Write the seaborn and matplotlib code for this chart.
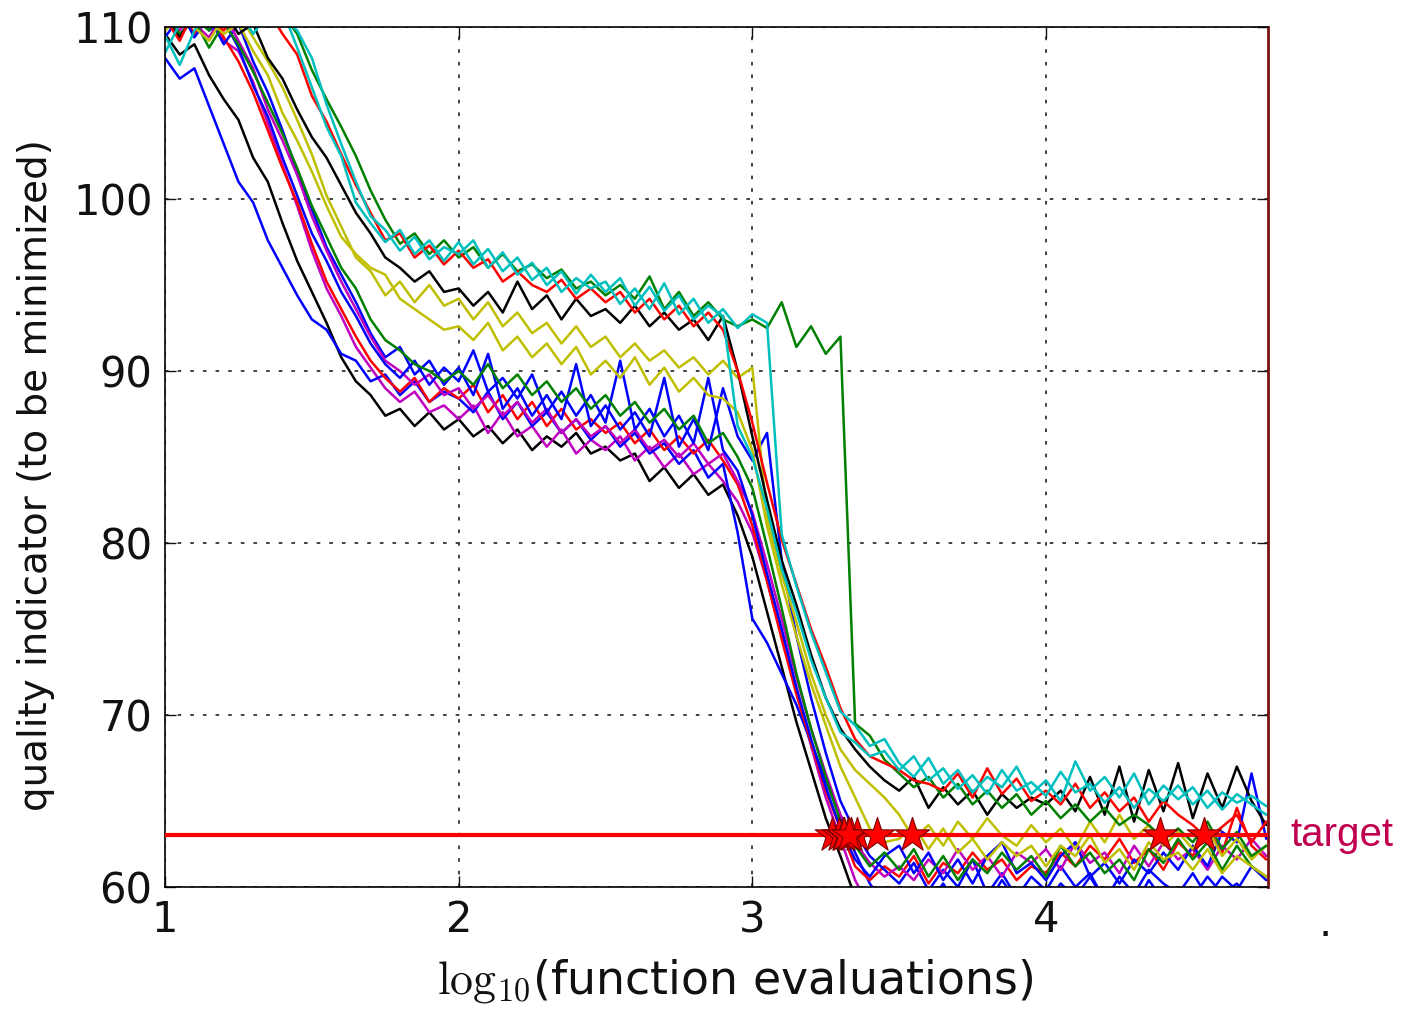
import numpy as np
import pandas as pd
import matplotlib
matplotlib.use("Agg")
import matplotlib.pyplot as plt
import seaborn as sns

# log10(evaluations) sample grid: 1.00, 1.05, ..., 4.75
log_evals = np.round(np.arange(1.0, 4.751, 0.05), 2)
target = 63

cyan1 = [108.5, 110.2, 111, 110.5, 111.2, 110.8, 111, 110.3, 111, 108.8,
         106.5, 104.2, 102.5, 99.8, 98.6, 97.5, 98.2, 96.8, 97.6, 96.4,
         97.5, 96.2, 97.1, 95.8, 96.6, 95.3, 96.0, 94.6, 95.4, 94.8,
         95.2, 93.9, 94.8, 93.6, 95.1, 93.3, 94.2, 92.8, 93.6, 92.5,
         93.3, 92.8, 80.5, 77.5, 74.8, 72.5, 70.2, 69.4, 68.2, 68.6,
         67.2, 66.4, 67.5, 66.0, 66.8, 65.5, 66.4, 65.8, 67.0, 65.4,
         66.2, 65.0, 67.3, 65.6, 66.4, 65.2, 66.6, 64.8, 65.9, 65.1,
         65.8, 64.6, 65.5, 64.9, 65.3, 64.7]
cyan2 = [109.5, 107.8, 109.8, 111, 110.2, 111, 109.6, 110.8, 110.5, 109.8,
         108.2, 105.5, 103.2, 101.0, 99.0, 98.2, 97.0, 97.8, 96.5, 97.2,
         96.8, 97.6, 96.0, 96.9, 95.6, 96.3, 95.0, 95.8, 94.5, 95.6,
         94.6, 95.4, 93.8, 94.9, 93.5, 94.4, 93.0, 93.8, 93.2, 86.8,
         85.0, 82.0, 78.5, 76.0, 73.2, 71.0, 69.0, 68.4, 67.6, 67.9,
         66.8, 67.6, 66.2, 66.9, 65.7, 66.5, 65.4, 66.8, 65.6, 66.1,
         65.3, 66.7, 65.5, 66.0, 64.9, 65.8, 64.6, 65.7, 65.0, 65.9,
         64.8, 65.6, 64.5, 65.4, 64.8, 64.2]
red1 = [110.5, 109.2, 111, 110.6, 109.8, 111, 110.4, 111, 109.6, 108.4,
        106.0, 104.5, 102.6, 100.8, 99.2, 97.6, 98.0, 96.6, 97.3, 96.2,
        97.0, 96.0, 96.5, 95.2, 95.8, 95.0, 94.6, 95.3, 94.2, 94.8,
        94.0, 94.6, 93.4, 94.2, 93.0, 93.8, 92.6, 93.4, 92.4, 90.0,
        87.0, 83.5, 80.2, 77.6, 75.0, 72.8, 70.4, 68.6, 67.6, 67.2,
        66.8, 66.2, 66.0, 65.6, 66.6, 65.2, 66.9, 65.4, 66.3, 65.0,
        65.6, 64.8, 66.0, 64.6, 65.5, 64.4, 65.2, 63.8, 65.0, 64.2,
        63.6, 62.8, 63.5, 64.2, 62.6, 63.8]
green1 = [110.2, 111, 110.5, 109.8, 111, 110.6, 111, 110.2, 110.8, 109.6,
          107.5, 105.8, 104.2, 102.5, 100.5, 98.8, 97.4, 98.0, 96.8, 97.6,
          96.6, 97.2, 96.0, 96.8, 95.8, 96.2, 95.4, 95.9, 94.8, 95.2,
          94.4, 95.0, 94.2, 95.5, 93.6, 94.6, 93.2, 94.0, 93.0, 92.6,
          93.0, 92.5, 94.0, 91.4, 92.6, 91.0, 92.0, 69.5, 68.8, 67.4,
          66.6, 65.8, 66.4, 65.2, 66.0, 64.8, 65.6, 64.6, 65.4, 64.2,
          65.0, 64.0, 64.8, 63.8, 64.6, 63.6, 64.2, 63.6, 62.8, 63.4,
          62.6, 63.8, 62.2, 63.2, 61.8, 62.4]
black1 = [110.5, 109.4, 110.8, 110.2, 111, 109.6, 110.2, 108.2, 107.0, 105.2,
          103.6, 102.4, 100.8, 99.2, 98.0, 96.6, 96.0, 95.2, 95.8, 94.6,
          94.8, 93.8, 94.6, 93.4, 95.2, 93.6, 94.4, 93.0, 94.2, 93.2,
          93.6, 92.8, 93.8, 92.6, 93.4, 92.4, 93.0, 91.8, 93.2, 90.0,
          86.2, 82.5, 79.0, 76.4, 73.5, 71.0, 69.2, 68.0, 67.0, 66.2,
          65.6, 66.4, 64.6, 65.8, 64.8, 65.6, 64.2, 65.4, 64.6, 65.2,
          64.8, 65.6, 64.4, 66.4, 64.2, 67.0, 63.8, 66.8, 64.4, 67.2,
          64.0, 66.6, 64.6, 67.0, 65.0, 63.6]
yellow1 = [110.4, 111, 110.0, 109.2, 110.6, 110.8, 109.4, 108.0, 106.5, 104.6,
           102.6, 100.2, 98.4, 96.6, 95.8, 94.4, 95.2, 94.0, 95.0, 93.8,
           94.2, 93.0, 94.0, 92.6, 93.4, 92.2, 92.8, 91.6, 92.6, 91.4,
           92.0, 90.8, 91.6, 90.6, 91.2, 90.2, 90.8, 89.8, 90.6, 89.6,
           90.2, 81.5, 78.2, 75.4, 72.4, 70.0, 68.0, 66.8, 66.0, 65.2,
           64.2, 62.8, 63.6, 62.4, 63.8, 62.8, 64.0, 63.0, 62.4, 63.6,
           62.6, 63.4, 62.2, 63.8, 62.6, 64.2, 62.8, 63.6, 62.4, 63.2,
           62.2, 63.4, 61.8, 62.8, 61.6, 62.4]
yellow2 = [109.8, 110.6, 111, 110.4, 109.6, 110.2, 108.6, 107.2, 105.0, 103.4,
           101.6, 99.6, 97.8, 96.8, 96.0, 95.6, 94.2, 93.6, 93.0, 92.4,
           92.6, 91.8, 92.8, 91.2, 92.0, 90.8, 91.6, 90.4, 91.4, 89.8,
           90.6, 89.6, 90.8, 89.2, 90.2, 88.8, 89.6, 88.6, 88.4, 87.6,
           85.4, 81.0, 77.6, 74.6, 71.8, 69.4, 67.0, 65.2, 63.4, 62.6,
           62.8, 63.6, 62.2, 63.4, 62.0, 62.8, 61.6, 62.6, 61.8, 62.4,
           61.2, 62.4, 61.8, 63.0, 61.4, 62.2, 61.0, 62.6, 61.6, 62.0,
           61.0, 62.2, 60.8, 61.8, 61.2, 60.6]
green2 = [110.8, 109.6, 110.4, 108.8, 110.2, 109.0, 107.4, 105.6, 103.8, 101.8,
          99.6, 97.8, 96.0, 94.8, 93.0, 91.8, 91.2, 90.4, 90.0, 89.4,
          90.0, 89.2, 90.4, 89.0, 89.8, 88.6, 89.4, 88.2, 89.0, 87.8,
          88.6, 87.4, 88.2, 87.0, 87.8, 86.6, 87.4, 85.8, 86.4, 85.0,
          83.2, 79.8, 76.2, 72.4, 69.2, 66.4, 63.8, 62.4, 61.2, 62.0,
          61.0, 62.2, 60.6, 61.8, 60.4, 61.6, 60.8, 62.0, 61.0, 61.8,
          60.6, 62.4, 61.2, 62.0, 60.8, 61.6, 60.4, 62.2, 61.4, 62.8,
          61.6, 62.6, 61.0, 62.4, 61.2, 60.6]
blue1 = [110.2, 111, 109.4, 110.6, 109.0, 110.2, 108.0, 106.2, 104.0, 101.6,
         99.4, 97.2, 95.6, 94.0, 92.2, 90.8, 91.4, 89.8, 90.6, 89.2,
         90.2, 88.6, 91.0, 87.8, 89.0, 87.4, 88.6, 87.2, 90.4, 86.8,
         88.0, 86.6, 87.6, 86.2, 89.6, 85.6, 87.2, 85.4, 89.0, 86.2,
         84.8, 86.4, 79.0, 74.6, 71.0, 67.8, 65.0, 63.2, 61.8, 61.0,
         60.2, 61.4, 59.8, 61.0, 60.0, 61.6, 59.6, 60.8, 59.4, 60.6,
         59.8, 61.2, 60.0, 60.8, 59.2, 60.6, 59.6, 61.0, 60.2, 59.6,
         60.8, 59.4, 60.6, 59.8, 61.2, 60.4]
blue2 = [108.2, 107.0, 107.6, 105.4, 103.2, 101.0, 99.8, 97.6, 96.0, 94.4,
         93.0, 92.4, 91.0, 90.6, 89.4, 89.8, 88.6, 89.4, 88.2, 88.8,
         88.4, 87.6, 88.8, 87.2, 88.2, 86.8, 87.6, 86.4, 87.2, 86.0,
         86.8, 85.6, 86.4, 85.2, 85.8, 84.6, 85.4, 83.8, 84.6, 80.6,
         75.6, 74.2, 72.4, 70.6, 68.4, 66.2, 64.0, 62.0, 60.2, 59.0,
         58.6, 59.8, 59.0, 60.2, 58.8, 59.6, 59.0, 60.4, 59.2, 59.8,
         59.0, 60.2, 59.4, 60.6, 59.2, 60.0, 58.8, 60.4, 59.2, 59.8,
         59.4, 60.6, 59.6, 60.2, 59.0, 59.6]
blue3 = [109.4, 110.6, 111, 109.8, 110.4, 108.8, 106.6, 104.8, 102.4, 100.2,
         98.0, 96.4, 94.6, 93.2, 91.6, 90.4, 89.6, 90.6, 89.2, 90.2,
         89.4, 91.2, 88.8, 89.6, 88.4, 89.8, 87.6, 88.8, 87.4, 88.6,
         87.0, 90.6, 86.6, 87.8, 86.2, 87.4, 85.8, 89.6, 85.4, 84.2,
         81.6, 78.2, 75.0, 71.6, 68.6, 65.8, 63.4, 61.6, 60.6, 61.8,
         62.4, 60.8, 62.0, 60.4, 61.6, 60.2, 61.8, 62.6, 60.8, 61.4,
         60.4, 61.8, 62.6, 60.6, 61.4, 60.2, 61.6, 60.8, 62.0, 61.0,
         62.4, 61.2, 63.2, 62.6, 66.6, 62.8]
magenta1 = [110.6, 109.8, 111, 110.4, 109.2, 108.6, 106.8, 104.4, 102.0, 99.6,
            97.0, 94.8, 93.2, 91.4, 90.2, 89.0, 88.2, 88.8, 87.6, 88.0,
            87.2, 88.0, 86.4, 87.6, 86.2, 86.8, 85.6, 86.6, 85.2, 86.0,
            85.4, 86.2, 84.8, 85.6, 84.4, 85.2, 84.0, 84.6, 83.6, 82.4,
            80.6, 77.8, 74.6, 71.4, 68.2, 65.2, 62.8, 60.4, 58.8, 58.2,
            58.0, 58.6, 57.8, 58.4, 57.6, 58.2, 57.8, 58.6, 58.0, 57.4,
            58.0, 58.6, 57.8, 58.4, 57.6, 58.2, 57.8, 58.6, 58.0, 57.4,
            58.0, 58.6, 57.8, 58.4, 57.6, 58.2]
magenta2 = [110.0, 111, 110.2, 109.4, 110.8, 109.2, 107.6, 105.2, 103.4, 101.4,
            99.0, 97.0, 95.2, 93.6, 92.0, 90.6, 90.0, 89.2, 89.8, 88.6,
            89.0, 87.8, 88.6, 87.4, 88.2, 87.0, 87.8, 86.4, 87.2, 86.2,
            86.8, 85.8, 86.6, 85.4, 86.0, 85.0, 85.8, 84.6, 85.2, 83.6,
            81.8, 78.8, 75.6, 72.2, 69.2, 66.6, 64.2, 62.6, 61.4, 60.6,
            61.2, 60.4, 61.6, 60.8, 62.2, 61.0, 61.8, 60.6, 62.0, 61.4,
            62.2, 61.0, 62.6, 61.4, 62.0, 60.8, 62.4, 61.2, 62.6, 61.6,
            62.2, 61.0, 62.4, 61.6, 62.8, 61.8]
black2 = [109.6, 108.4, 109.0, 107.2, 105.8, 104.6, 102.4, 101.0, 98.6, 96.4,
          94.6, 92.8, 90.8, 89.4, 88.6, 87.4, 87.8, 86.8, 87.6, 86.6,
          87.2, 86.2, 86.8, 85.8, 86.6, 85.4, 86.2, 85.6, 86.4, 85.2,
          85.6, 84.8, 85.2, 83.6, 84.4, 83.2, 84.0, 82.8, 83.4, 81.6,
          79.2, 76.0, 72.8, 69.6, 66.8, 64.0, 61.8, 59.4, 58.2, 57.6,
          57.8, 58.4, 57.6, 58.2, 57.4, 58.0, 57.6, 58.4, 57.8, 57.2,
          57.8, 58.4, 57.6, 58.2, 57.4, 58.0, 57.6, 58.4, 57.8, 57.2,
          57.8, 58.4, 57.6, 58.2, 57.4, 58.0]
red2 = [110.2, 111, 109.6, 110.8, 109.4, 108.0, 106.2, 104.0, 101.8, 99.8,
        97.4, 95.2, 93.6, 92.0, 90.6, 89.6, 88.8, 89.6, 88.2, 89.0,
        88.4, 89.2, 87.6, 88.6, 87.2, 88.2, 86.8, 87.8, 86.6, 87.2,
        86.4, 87.0, 85.8, 86.6, 85.4, 86.2, 85.2, 86.0, 84.8, 83.4,
        81.0, 77.8, 74.4, 71.2, 68.4, 65.6, 63.4, 61.2, 60.4, 61.2,
        60.6, 61.8, 60.2, 61.4, 60.8, 62.0, 61.0, 61.6, 60.4, 61.2,
        60.8, 62.0, 61.2, 62.4, 61.6, 62.8, 61.4, 62.2, 61.0, 62.6,
        61.8, 63.4, 62.0, 64.6, 62.4, 61.6]

runs = [
    (black2, "k"), (magenta1, "m"), (blue2, "b"), (red2, "r"), (blue1, "b"),
    (magenta2, "m"), (blue3, "b"), (green2, "g"), (yellow2, "y"), (yellow1, "y"),
    (black1, "k"), (green1, "g"), (red1, "r"), (cyan2, "c"), (cyan1, "c"),
]
classic = {"b": (0, 0, 1), "g": (0, 0.5, 0), "r": (1, 0, 0), "c": (0, 0.75, 0.75),
           "m": (0.75, 0, 0.75), "y": (0.75, 0.75, 0), "k": (0, 0, 0)}

sns.set_style("ticks")
plt.rcParams["mathtext.fontset"] = "cm"
plt.rcParams["font.family"] = ["DejaVu Sans"]

fig = plt.figure(figsize=(14.07, 10.13), dpi=100)
ax = fig.add_axes([0.1173, 0.1244, 0.7839, 0.8489])

hit_x = []
for vals, c in runs:
    y = np.array(vals)
    sns.lineplot(x=log_evals, y=y, color=classic[c], lw=1.8, ax=ax,
                 estimator=None, sort=False)
    below = np.where(y <= target)[0]
    if len(below) and below[0] > 0:
        i = below[0]
        x0, x1 = log_evals[i - 1], log_evals[i]
        y0, y1 = y[i - 1], y[i]
        hit_x.append(x0 + (x1 - x0) * (y0 - target) / (y0 - y1))

ax.axhline(target, color="red", lw=3, zorder=4)
stars = pd.DataFrame({"x": hit_x, "y": [target] * len(hit_x)})
sns.scatterplot(data=stars, x="x", y="y", marker="*", s=680, color="red",
                edgecolor="#7a0000", linewidth=0.8, zorder=5, ax=ax, legend=False)

ax.set_xlim(1, 4.756)
ax.set_ylim(60, 110)
ax.set_xticks([1, 2, 3, 4])
ax.set_yticks([60, 70, 80, 90, 100, 110])
ax.grid(True, linestyle=(0, (2, 5)), color="#333333", lw=1.3)
ax.tick_params(direction="in", top=True, right=True, length=8, width=1,
               labelsize=30, pad=9, colors="#111111")
for s in ax.spines.values():
    s.set_color("black")
    s.set_linewidth(1.2)
ax.spines["right"].set_color("#7a1010")
ax.spines["right"].set_linewidth(2)

ax.set_xlabel(r"$\mathrm{log}_{10}$(function evaluations)", fontsize=33,
              color="#111111")
ax.xaxis.set_label_coords(0.517, -0.082)
ax.set_ylabel("quality indicator (to be minimized)", fontsize=28, color="#111111")
ax.yaxis.set_label_coords(-0.1, 0.479)

ax.text(1.02, target, "target", transform=ax.get_yaxis_transform(),
        color="#c0004f", fontsize=29, family="Liberation Sans",
        ha="left", va="center")
fig.text(1325 / 1407, 1 - 936 / 1013, ".", fontsize=30, ha="center",
         va="baseline", color="#111111")

fig.savefig("out.png", dpi=100)
plt.close()
